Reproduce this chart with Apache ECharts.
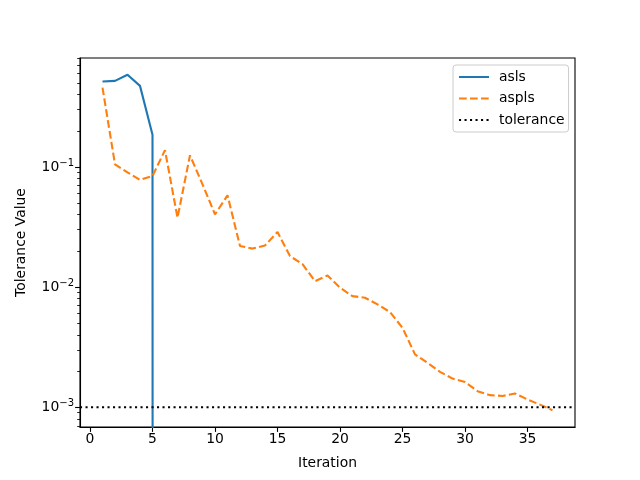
<!DOCTYPE html>
<html>
<head>
<meta charset="utf-8">
<script src="https://cdn.jsdelivr.net/npm/echarts@6/dist/echarts.min.js"></script>
<style>
  html, body { margin: 0; padding: 0; background: #fff; }
  #main { width: 640px; height: 480px; }
</style>
</head>
<body>
<div id="main"></div>
<script>
// tolerance per iteration
const aslsValues = [0.514, 0.521, 0.585, 0.473, 0.185, 0];
const asplsValues = [
  0.458, 0.105, 0.090, 0.078, 0.084, 0.138, 0.0378, 0.125, 0.0717, 0.0403,
  0.058, 0.022, 0.0209, 0.0222, 0.0287, 0.0181, 0.0155, 0.0112, 0.0125, 0.00987,
  0.0084, 0.00815, 0.00717, 0.00619, 0.00458, 0.00275, 0.00234, 0.00197, 0.00173, 0.00162,
  0.00136, 0.00126, 0.00124, 0.0013, 0.00116, 0.00105, 0.000944
];
const tolerance = 1e-3;
const xTicks = [0, 5, 10, 15, 20, 25, 30, 35];
const yMajorTicks = [1e-3, 1e-2, 1e-1];
const yExponents = ['−3', '−2', '−1'];

const font = 'DejaVu Sans';
const xMin = -0.8, xMax = 38.8;
const yMin = 6.84e-4, yMax = 0.807;

// minor log ticks 2..9 x 10^k inside the range
const yMinorTicks = [];
for (let k = -4; k <= -1; k++) {
  for (let m = 2; m <= 9; m++) {
    const v = m * Math.pow(10, k);
    if (v >= yMin && v <= yMax) yMinorTicks.push(+v.toPrecision(3));
  }
}

// a zero on a log axis falls off the bottom, like matplotlib does
const toPairs = vals => vals.map((v, i) => [i + 1, v > 0 ? v : 1e-300]);

const chart = echarts.init(document.getElementById('main'), null, { renderer: 'canvas' });

chart.setOption({
  animation: false,
  backgroundColor: '#fff',
  textStyle: { fontFamily: font },
  grid: {
    left: 80, right: 65, top: 58, bottom: 53,
    show: true, borderColor: '#000', borderWidth: 1.1, backgroundColor: 'transparent'
  },
  legend: {
    orient: 'vertical',
    left: 453, top: 65,
    padding: [5, 4, 5, 5],
    itemWidth: 30, itemHeight: 14, itemGap: 7.5,
    itemStyle: { opacity: 0 },
    backgroundColor: 'rgba(255,255,255,0.8)',
    borderColor: '#cccccc', borderWidth: 1, borderRadius: 3,
    textStyle: { fontFamily: font, fontSize: 13.9, color: '#000', padding: [0, 0, 0, 5] },
    data: ['asls', 'aspls', 'tolerance']
  },
  xAxis: {
    type: 'value',
    min: xMin, max: xMax,
    name: 'Iteration',
    nameLocation: 'middle', nameGap: 29,
    nameTextStyle: { fontFamily: font, fontSize: 13.9, color: '#000' },
    axisLine: { onZero: false, lineStyle: { color: '#000', width: 1.1 } },
    axisTick: { length: 4.9, lineStyle: { color: '#000', width: 1.1 }, customValues: xTicks },
    axisLabel: { customValues: xTicks, fontFamily: font, fontSize: 13.9, color: '#000', margin: 5 },
    splitLine: { show: false }
  },
  yAxis: [{
    type: 'log',
    position: 'left',
    min: yMin, max: yMax,
    name: 'Tolerance Value',
    nameLocation: 'middle', nameGap: 52,
    nameTextStyle: { fontFamily: font, fontSize: 13.9, color: '#000' },
    axisLine: { show: true, onZero: false, lineStyle: { color: '#000', width: 1.1 } },
    axisTick: { length: 4.9, lineStyle: { color: '#000', width: 1.1 }, customValues: yMajorTicks },
    axisLabel: {
      customValues: yMajorTicks,
      margin: 6,
      formatter: v => {
        const i = yMajorTicks.findIndex(t => Math.abs(t - v) / t < 1e-6);
        return '{b|10}{s|' + yExponents[i] + '}';
      },
      rich: {
        b: { fontFamily: font, fontSize: 13.9, color: '#000' },
        s: { fontFamily: font, fontSize: 10, color: '#000', padding: [0, 0, 8, 0] }
      }
    },
    splitLine: { show: false }
  }, {
    type: 'log',
    position: 'left',
    offset: 0,
    min: yMin, max: yMax,
    axisLine: { show: false, onZero: false },
    axisTick: { length: 2.8, lineStyle: { color: '#000', width: 0.85 }, customValues: yMinorTicks },
    axisLabel: { show: false },
    splitLine: { show: false }
  }],
  series: [{
    name: 'asls',
    type: 'line',
    data: toPairs(aslsValues),
    showSymbol: false, symbol: 'none',
    clip: true,
    color: '#1f77b4',
    lineStyle: { color: '#1f77b4', width: 2.1 }
  }, {
    name: 'aspls',
    type: 'line',
    data: toPairs(asplsValues),
    showSymbol: false, symbol: 'none',
    clip: true,
    color: '#ff7f0e',
    lineStyle: { color: '#ff7f0e', width: 2.1, type: [7.7, 3.3] }
  }, {
    // horizontal threshold spanning the whole x range
    name: 'tolerance',
    type: 'line',
    data: [[xMin, tolerance], [xMax, tolerance]],
    showSymbol: false, symbol: 'none',
    color: '#000',
    lineStyle: { color: '#000', width: 2.1, type: [2.1, 3.4] }
  }]
});

window.addEventListener('resize', () => chart.resize());
</script>
</body>
</html>
